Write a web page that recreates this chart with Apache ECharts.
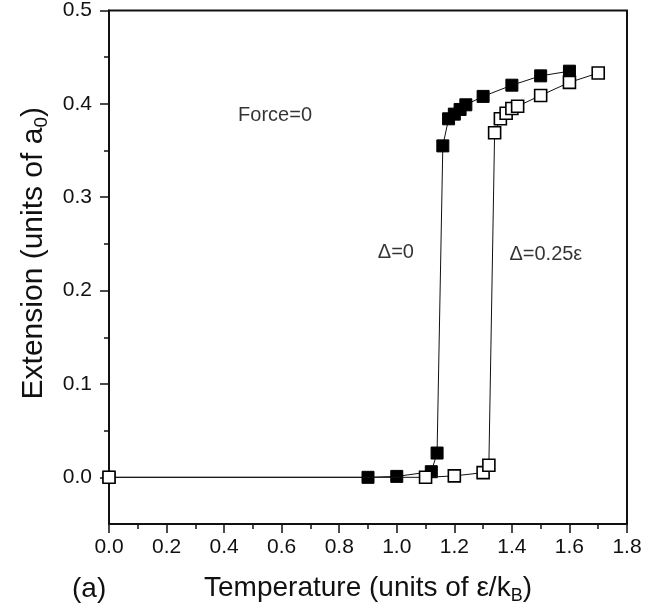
<!DOCTYPE html>
<html>
<head>
<meta charset="utf-8">
<script src="https://cdn.jsdelivr.net/npm/echarts@6/dist/echarts.min.js"></script>
<style>
html,body{margin:0;padding:0;background:#fff;}
#chart{width:668px;height:612px;}
</style>
</head>
<body>
<div id="chart"></div>
<script>
// Δ=0 series (filled squares)
const temperatureFilled = [0, 0.9, 1.0, 1.12, 1.14, 1.16, 1.18, 1.20, 1.22, 1.24, 1.30, 1.40, 1.50, 1.60];
const extensionFilled   = [0, 0, 0.001, 0.006, 0.026, 0.355, 0.384, 0.389, 0.394, 0.399, 0.408, 0.420, 0.430, 0.435];
// Δ=0.25ε series (open squares)
const temperatureOpen = [0, 1.10, 1.20, 1.30, 1.32, 1.34, 1.36, 1.38, 1.40, 1.42, 1.50, 1.60, 1.70];
const extensionOpen   = [0, 0, 0.0015, 0.005, 0.013, 0.369, 0.384, 0.390, 0.395, 0.3975, 0.409, 0.423, 0.433];
// tick values
const xTickValues = [0, 0.2, 0.4, 0.6, 0.8, 1.0, 1.2, 1.4, 1.6, 1.8];
const yTickValues = [0, 0.1, 0.2, 0.3, 0.4, 0.5];
const yMinorTickValues = [0.05, 0.15, 0.25, 0.35, 0.45];
// annotations (data coordinates)
const annotationTexts = ['Force=0', 'Δ=0', 'Δ=0.25ε'];
const annotationX = [0.577, 0.997, 1.518];
const annotationY = [0.388, 0.241, 0.239];

const FONT = "'Liberation Sans', Arial, Helvetica, sans-serif";
const INK = '#111';
const zip = (a, b) => a.map((v, i) => [v, b[i]]);

const chart = echarts.init(document.getElementById('chart'), null, {renderer: 'canvas'});
chart.setOption({
  animation: false,
  backgroundColor: '#fff',
  title: {
    text: '(a)', left: 67, top: 570,
    textStyle: {fontFamily: FONT, fontSize: 28, fontWeight: 'normal', color: INK}
  },
  grid: {left: 109, right: 41, top: 7, bottom: 88, show: true, borderColor: INK, borderWidth: 2, backgroundColor: 'transparent'},
  xAxis: {
    type: 'value', min: 0, max: 1.8, interval: 0.2,
    name: 'Temperature (units of ε/k{sub|B})',
    nameLocation: 'middle', nameGap: 48,
    nameTextStyle: {fontFamily: FONT, fontSize: 28, color: INK,
      rich: {sub: {fontFamily: FONT, fontSize: 18, verticalAlign: 'bottom', padding: [15, 0, 0, 0], color: INK}}},
    axisLine: {show: true, onZero: false, lineStyle: {color: INK, width: 2}},
    axisTick: {show: true, inside: false, length: 9, lineStyle: {color: INK, width: 1.5}},
    minorTick: {show: true, splitNumber: 2, length: 5, lineStyle: {color: INK, width: 1.5}},
    axisLabel: {fontFamily: FONT, fontSize: 21, color: INK, margin: 13, formatter: v => v.toFixed(1)},
    splitLine: {show: false}
  },
  yAxis: [{
    type: 'value', min: -0.05, max: 0.5,
    name: 'Extension (units of a{sub|0})',
    nameLocation: 'middle', nameGap: 58,
    nameTextStyle: {fontFamily: FONT, fontSize: 30, color: INK, padding: [0, 0, 0, 28],
      rich: {sub: {fontFamily: FONT, fontSize: 19, verticalAlign: 'bottom', padding: [16, 0, 0, 0], color: INK}}},
    axisLine: {show: true, onZero: false, lineStyle: {color: INK, width: 2}},
    axisTick: {show: true, inside: false, length: 9, customValues: yTickValues, lineStyle: {color: INK, width: 1.5}},
    axisLabel: {fontFamily: FONT, fontSize: 21, color: INK, margin: 17, customValues: yTickValues, formatter: v => v.toFixed(1)},
    splitLine: {show: false}
  }, {
    type: 'value', min: -0.05, max: 0.5, position: 'left', offset: 0,
    axisLine: {show: false},
    axisTick: {show: true, inside: false, length: 5, customValues: yMinorTickValues, lineStyle: {color: INK, width: 1.5}},
    axisLabel: {show: false},
    splitLine: {show: false}
  }],
  series: [{
    type: 'line', name: 'Δ=0',
    data: zip(temperatureFilled, extensionFilled),
    symbol: 'rect', symbolSize: 12, showAllSymbol: true,
    lineStyle: {color: INK, width: 1},
    itemStyle: {color: '#000', borderColor: '#000', borderWidth: 1},
    z: 2
  }, {
    type: 'line', name: 'Δ=0.25ε',
    data: zip(temperatureOpen, extensionOpen),
    symbol: 'rect', symbolSize: 12, showAllSymbol: true,
    lineStyle: {color: INK, width: 1},
    itemStyle: {color: '#fff', borderColor: '#000', borderWidth: 1.6},
    z: 3
  }, {
    type: 'scatter', name: 'annotations',
    data: annotationTexts.map((t, i) => ({value: [annotationX[i], annotationY[i]], name: t})),
    symbolSize: 0,
    label: {show: true, position: 'inside', formatter: p => p.name, fontFamily: FONT, fontSize: 20, color: '#000'},
    silent: true, z: 4
  }]
});
</script>
</body>
</html>
